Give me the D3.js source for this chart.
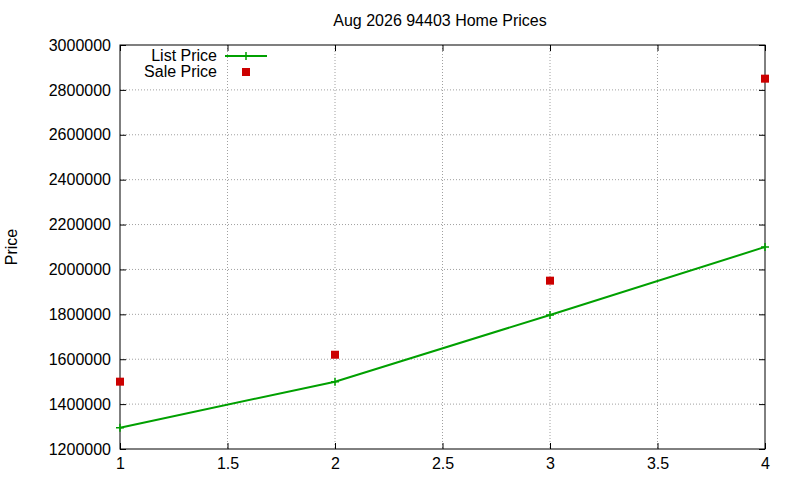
<!DOCTYPE html>
<html><head><meta charset="utf-8">
<script src="https://cdn.jsdelivr.net/npm/d3@7"></script>
<style>body{margin:0;background:#fff}</style>
</head><body>
<svg id="c" width="800" height="480"></svg>
<script>
const xValues = [1, 2, 3, 4];
const listPrice = [1295000, 1500000, 1797000, 2100000];
const salePrice = [1500000, 1620000, 1950000, 2850000];
const xTicks = [1, 1.5, 2, 2.5, 3, 3.5, 4];
const yTicks = [1200000,1400000,1600000,1800000,2000000,2200000,2400000,2600000,2800000,3000000];

const svg = d3.select("#c");
const L=120, R=765, T=45, B=449;
const x = d3.scaleLinear().domain([1,4]).range([L,R]);
const y = d3.scaleLinear().domain([1200000,3000000]).range([B,T]);
const font = "Liberation Sans, Arial, sans-serif";
const fs = 16;

svg.append("g").selectAll("line").data(xTicks.slice(1,-1)).join("line")
  .attr("x1",d=>x(d)).attr("x2",d=>x(d)).attr("y1",T).attr("y2",B)
  .attr("stroke","#a0a0a0").attr("stroke-dasharray","1,2");
svg.append("g").selectAll("line").data(yTicks.slice(1,-1)).join("line")
  .attr("y1",d=>y(d)).attr("y2",d=>y(d)).attr("x1",L).attr("x2",R)
  .attr("stroke","#a0a0a0").attr("stroke-dasharray","1,2");

const xa = svg.append("g").attr("transform",`translate(0,${B})`)
  .call(d3.axisBottom(x).tickValues(xTicks).tickSizeInner(-6).tickSizeOuter(0).tickPadding(9).tickFormat(d3.format("")));
const xt = svg.append("g").attr("transform",`translate(0,${T})`)
  .call(d3.axisTop(x).tickValues(xTicks).tickSizeInner(-6).tickSizeOuter(0).tickFormat(""));
const ya = svg.append("g").attr("transform",`translate(${L},0)`)
  .call(d3.axisLeft(y).tickValues(yTicks).tickSizeInner(-6).tickSizeOuter(0).tickPadding(9).tickFormat(d3.format("d")));
const yr = svg.append("g").attr("transform",`translate(${R},0)`)
  .call(d3.axisRight(y).tickValues(yTicks).tickSizeInner(-6).tickSizeOuter(0).tickFormat(""));
[xa,xt,ya,yr].forEach(g=>{g.selectAll(".domain").remove();g.selectAll("line").attr("stroke","#000");
  g.selectAll("text").attr("font-family",font).attr("font-size",fs).attr("fill","#000");});
svg.append("rect").attr("x",L).attr("y",T).attr("width",R-L).attr("height",B-T)
  .attr("fill","none").attr("stroke","#000");

svg.append("text").attr("x",440).attr("y",26).attr("text-anchor","middle")
  .attr("font-family",font).attr("font-size",fs).text("Aug 2026 94403 Home Prices");
svg.append("text").attr("transform","translate(17,247) rotate(-90)").attr("text-anchor","middle")
  .attr("font-family",font).attr("font-size",fs).text("Price");

const green="#00a000", red="#cc0000";
svg.append("path").datum(xValues.map((d,i)=>[d,listPrice[i]]))
  .attr("d",d3.line().x(d=>x(d[0])).y(d=>y(d[1]))).attr("fill","none").attr("stroke",green).attr("stroke-width",2);
const plus=(g,cx,cy)=>{g.append("path").attr("d",`M${cx-4},${cy}H${cx+4}M${cx},${cy-4}V${cy+4}`).attr("stroke",green).attr("stroke-width",1.5);};
xValues.forEach((d,i)=>plus(svg,x(d),y(listPrice[i])));
svg.selectAll("rect.s").data(xValues).join("rect").attr("class","s")
  .attr("x",(d)=>x(d)-4).attr("y",(d,i)=>y(salePrice[i])-4).attr("width",8).attr("height",8).attr("fill",red);

svg.append("text").attr("x",217).attr("y",61).attr("text-anchor","end").attr("font-family",font).attr("font-size",fs).text("List Price");
svg.append("line").attr("x1",225).attr("x2",267).attr("y1",56).attr("y2",56).attr("stroke",green).attr("stroke-width",2);
plus(svg,246,56);
svg.append("text").attr("x",217).attr("y",77).attr("text-anchor","end").attr("font-family",font).attr("font-size",fs).text("Sale Price");
svg.append("rect").attr("x",242).attr("y",68).attr("width",8).attr("height",8).attr("fill",red);
</script>
</body></html>
